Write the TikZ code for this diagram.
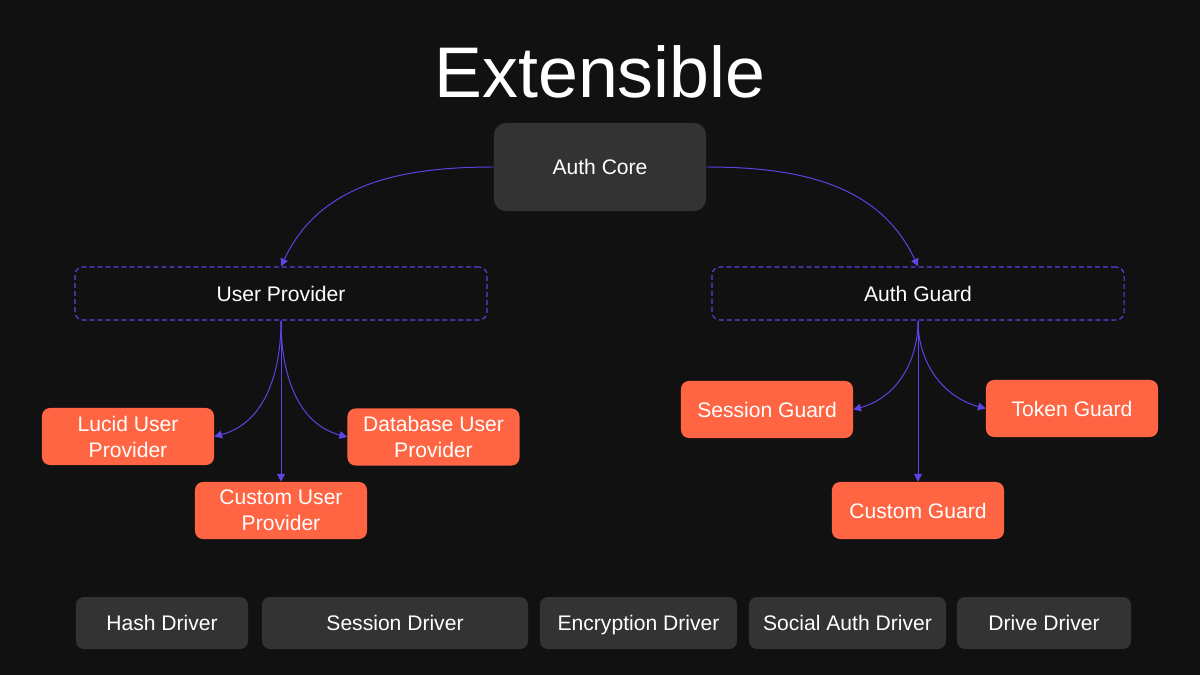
\documentclass[tikz,border=0pt]{standalone}
\usepackage{fontspec}
\setmainfont{Liberation Sans}
\usetikzlibrary{positioning}
\usetikzlibrary{arrows.meta}
\definecolor{bgdark}{HTML}{111111}
\definecolor{boxgrey}{HTML}{333333}
\definecolor{implorange}{HTML}{FF6542}
\definecolor{linkpurple}{HTML}{5A45E6}

\begin{document}
\begin{tikzpicture}[x=0.025cm,y=-0.025cm,
  txt/.style={text=white,font=\fontsize{15}{18.5}\selectfont,align=center,inner sep=0pt},
  core/.style={txt,fill=boxgrey,rounded corners=0.3cm,minimum width=5.3cm,minimum height=2.2cm},
  group/.style={txt,draw=linkpurple,line width=0.8pt,dash pattern=on 3.5pt off 2.2pt,rounded corners=0.2cm,minimum width=10.3cm,minimum height=1.325cm},
  impl/.style={txt,fill=implorange,rounded corners=0.2cm,minimum width=4.3cm,minimum height=1.425cm},
  driver/.style={txt,fill=boxgrey,rounded corners=0.2cm,minimum height=1.3cm,text height=10.7pt,text depth=0pt},
  link/.style={draw=linkpurple,line width=0.7pt,-{Triangle[length=5.5pt,width=5.5pt]}}]
\fill[bgdark] (0,0) rectangle (1200,675);
\node[text=white,font=\fontsize{51}{60}\selectfont] (title) at (600,72) {Extensible};

\node[core] (core) at (600,167) {Auth Core};
\node[group] (userprov) at (281,293.5) {User Provider};
\node[group] (authguard) at (918,293.5) {Auth Guard};

\node[impl] (lucid) at (128,436.5) {Lucid User\\Provider};
\node[impl] (customuser) at (281,510.5) {Custom User\\Provider};
\node[impl] (database) at (433.5,437) {Database User\\Provider};

\node[impl] (session) at (767,409.5) {Session Guard};
\node[impl] (token) at (1072,408.5) {Token Guard};
\node[impl] (customguard) at (918,510.5) {Custom Guard};

% drivers
\node[driver,minimum width=4.3cm] (hash) at (162,623) {Hash Driver};
\node[driver,minimum width=6.65cm] (sessiondrv) at (395,623) {Session Driver};
\node[driver,minimum width=4.925cm] (encrypt) at (638.5,623) {Encryption Driver};
\node[driver,minimum width=4.925cm] (social) at (847.5,623) {Social Auth Driver};
\node[driver,minimum width=4.35cm] (drive) at (1044,623) {Drive Driver};

\draw[link] (core.west) to[out=180,in=65] (userprov.north);
\draw[link] (core.east) to[out=0,in=115] (authguard.north);

\draw[link] (userprov.south) to[out=-90,in=15] (lucid.east);
\draw[link] (userprov.south) -- (customuser.north);
\draw[link] (userprov.south) to[out=-90,in=165] (database.west);

\draw[link] (authguard.south) to[out=-90,in=15] (session.east);
\draw[link] (authguard.south) -- (customguard.north);
\draw[link] (authguard.south) to[out=-90,in=165] (token.west);
\end{tikzpicture}
\end{document}
